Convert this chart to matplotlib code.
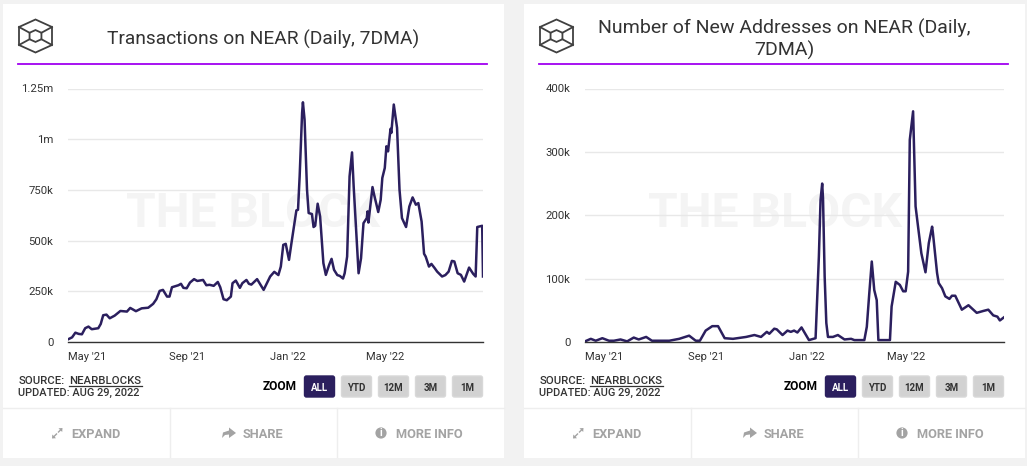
import numpy as np
import pandas as pd
import matplotlib
matplotlib.use('Agg')
import matplotlib.pyplot as plt
import matplotlib.dates as mdates
from matplotlib.patches import FancyBboxPatch, Rectangle, Circle, Polygon

plt.rcParams['font.family'] = ['Roboto', 'DejaVu Sans']

# Daily series, sampled at turning points. Days are counted from start_date.
start_date = pd.Timestamp('2021-04-08')
last_day = 507

tx_days = [0, 5, 9, 13, 17, 21, 25, 29, 37, 40, 43, 47, 51, 57, 64, 72, 76, 83, 90, 98, 104, 108, 112, 116, 121,
           124, 127, 135, 138, 141, 145, 149, 154, 158, 165, 169, 173, 178, 183, 186, 190, 194, 199, 201, 205, 210,
           213, 218, 221, 224, 231, 239, 243, 247, 252, 257, 260, 263, 266, 270, 273, 277, 279, 281, 283, 286, 287,
           289, 292, 294, 298, 300, 302, 305, 308, 312, 315, 319, 322, 325, 329, 332, 336, 338, 341, 344, 347, 349,
           352, 355, 358, 361, 365, 366, 367, 372, 374, 379, 382, 384, 387, 389, 391, 394, 395, 398, 402, 405, 408,
           413, 417, 421, 425, 428, 432, 435, 437, 441, 444, 448, 451, 457, 461, 465, 469, 472, 476, 480, 484, 490,
           495, 498, 500, 506, 507]
tx_values = [13, 23, 46, 40, 38, 68, 76, 63, 68, 89, 132, 135, 117, 130, 153, 150, 168, 152, 166, 169, 188, 211, 252,
             257, 224, 224, 270, 280, 287, 267, 265, 293, 310, 301, 306, 280, 282, 277, 296, 270, 211, 206, 224, 290,
             303, 267, 290, 306, 287, 283, 310, 257, 290, 323, 346, 330, 372, 479, 484, 405, 488, 594, 649, 652, 817,
             1130, 1182, 1097, 751, 636, 631, 567, 573, 682, 619, 389, 331, 380, 410, 356, 330, 326, 313, 339, 421,
             817, 935, 767, 553, 339, 413, 586, 611, 644, 589, 764, 726, 641, 701, 809, 858, 965, 940, 1051, 1031,
             1171, 1056, 751, 611, 567, 668, 713, 677, 685, 594, 435, 421, 372, 385, 364, 347, 323, 330, 347, 400,
             397, 339, 331, 298, 367, 336, 323, 567, 573, 323]

addr_days = [0, 7, 13, 21, 29, 35, 43, 51, 59, 65, 74, 81, 102, 114, 126, 134, 139, 146, 154, 161, 169, 179, 195, 205,
             213, 220, 223, 229, 232, 239, 245, 249, 253, 257, 262, 271, 279, 283, 285, 287, 288, 290, 292, 294, 300,
             306, 314, 322, 326, 338, 341, 344, 347, 350, 353, 355, 369, 371, 376, 381, 385, 388, 391, 393, 397, 400,
             403, 407, 412, 416, 420, 421, 426, 428, 432, 436, 441, 444, 448, 456, 464, 474, 482, 488, 494, 499, 502,
             507]
addr_values = [1, 5, 2, 6, 2, 2, 4, 1, 7, 4, 8, 2, 2, 5, 10, 2, 2, 18, 25, 25, 6, 5, 8, 11, 8, 16, 13, 21, 20, 11, 18,
               16, 18, 15, 23, 3, 6, 135, 224, 250, 227, 103, 30, 8, 8, 11, 4, 5, 3, 3, 24, 77, 127, 82, 66, 3, 3, 56,
               95, 90, 80, 80, 111, 319, 364, 214, 182, 140, 110, 156, 182, 172, 109, 93, 85, 72, 68, 73, 73, 51, 58,
               46, 49, 51, 42, 40, 34, 39]

month_ticks = ['2021-05-01', '2021-09-01', '2022-01-01', '2022-05-01']
tx_yticks = [0, 250, 500, 750, 1000, 1250]
tx_ylabels = ['0', '250k', '500k', '750k', '1m', '1.25m']
addr_yticks = [0, 100, 200, 300, 400]
addr_ylabels = ['0', '100k', '200k', '300k', '400k']
zoom_options = ['ALL', 'YTD', '12M', '3M', '1M']

W, H = 1027, 466
INK = '#2b1f5e'
GREY = '#a3a3a3'

fig = plt.figure(figsize=(W / 100, H / 100), dpi=100, facecolor='#f2f2f2')

# full-figure layer in pixel units for the card furniture
page = fig.add_axes([0, 0, 1, 1], zorder=0)
page.set_xlim(0, W)
page.set_ylim(H, 0)
page.axis('off')


def draw_logo(ox):
    cx, cy = 35.5 + ox, 36
    outer = np.array([(0, -16.5), (16.5, -9), (16.5, 9), (0, 16.5), (-16.5, 9), (-16.5, -9)])
    inner = outer * 0.36
    page.add_patch(Polygon(outer + (cx, cy), closed=True, fill=False, ec='#404040', lw=1.3))
    page.add_patch(Polygon(inner + (cx, cy), closed=True, fill=False, ec='#404040', lw=1.3))
    for k in [1, 2, 4, 5]:
        page.plot([outer[k, 0] + cx, inner[k, 0] + cx], [outer[k, 1] + cy, inner[k, 1] + cy], color='#404040', lw=1.3)


def draw_footer(ox):
    page.plot([ox + 3, ox + 504], [408, 408], color='#eeeeee', lw=1)
    page.plot([ox + 169.5] * 2, [408, 457], color='#eeeeee', lw=1)
    page.plot([ox + 336.5] * 2, [408, 457], color='#eeeeee', lw=1)

    label = dict(fontsize=9.2, fontweight='bold', color=GREY, va='center', ha='left')
    page.text(ox + 71, 434, 'EXPAND', **label)
    page.text(ox + 242.5, 434, 'SHARE', **label)
    page.text(ox + 396, 434, 'MORE INFO', **label)

    # expand icon, two small arrows pointing apart
    page.plot([ox + 54, ox + 56.5], [436.5, 434], color=GREY, lw=1)
    page.plot([ox + 58.5, ox + 61], [432, 429.5], color=GREY, lw=1)
    page.add_patch(Polygon([(ox + 52, 438.5), (ox + 52.3, 434.5), (ox + 56, 438.2)], closed=True, fc=GREY, ec='none'))
    page.add_patch(Polygon([(ox + 62.5, 428), (ox + 62.2, 432), (ox + 58.5, 428.3)], closed=True, fc=GREY, ec='none'))
    # share icon
    page.add_patch(Polygon([(ox + 222, 438), (ox + 223, 432.5), (ox + 229, 430.5), (ox + 229, 427.5), (ox + 236, 433),
                            (ox + 229, 438), (ox + 229, 434.5), (ox + 225, 435)], closed=True, fc=GREY, ec='none'))
    # info icon
    page.add_patch(Circle((ox + 381, 433), 5.6, fc=GREY, ec='none'))
    page.text(ox + 381, 433, 'i', fontsize=7.5, fontweight='bold', color='white', ha='center', va='center')


def draw_source(ox):
    line = dict(fontsize=8.2, fontweight='medium', color='#333333', va='center', ha='left')
    page.text(ox + 19, 380.5, 'SOURCE:', **line)
    page.text(ox + 69, 380.5, 'NEARBLOCKS', **line)
    page.plot([ox + 69, ox + 142], [385.5, 385.5], color='#333333', lw=0.9)
    line['fontsize'] = 7.9
    page.text(ox + 18, 392.5, 'UPDATED: AUG 29, 2022', **line)


def draw_zoom(ox):
    page.text(ox + 279.5, 386, 'ZOOM', fontsize=8.6, fontweight='bold', color='black', ha='center', va='center')
    for i, name in enumerate(zoom_options):
        x0 = ox + 303.5 + i * 37
        active = name == 'ALL'
        page.add_patch(FancyBboxPatch((x0 + 1, 376), 30, 21, boxstyle='round,pad=0,rounding_size=2',
                                      fc=INK if active else '#d2d2d2', ec=INK if active else '#d8d8d8', lw=1))
        page.text(x0 + 16, 388, name, fontsize=7, fontweight='bold', color='white' if active else '#333333',
                  ha='center', va='center')


def draw_card(ox, title, title_size, plot_left, plot_right, days, values, yticks, ylabels):
    page.add_patch(Rectangle((ox + 3, 4), 501, 453.5, fc='white', ec='none'))
    draw_logo(ox)
    page.text(ox + 263, 39.5, title, fontsize=title_size, color='#333333', ha='center', va='center', linespacing=1.2)
    page.plot([ox + 18, ox + 487], [64, 64], color='#a000f0', lw=1.3)
    page.text(ox + 253.5, 214, 'THE BLOCK', fontsize=34.6, fontweight='bold', color='#f4f4f4', ha='center', va='center')
    draw_footer(ox)
    draw_source(ox)
    draw_zoom(ox)

    top, bottom = 88.5, 342
    ax = fig.add_axes([plot_left / W, 1 - bottom / H, (plot_right - plot_left) / W, (bottom - top) / H], zorder=1)
    ax.patch.set_alpha(0)
    dates = start_date + pd.to_timedelta(days, unit='D')
    ax.plot(dates, values, color=INK, lw=1.8, solid_joinstyle='round')
    ax.set_xlim(start_date, start_date + pd.Timedelta(days=last_day))
    ax.set_ylim(yticks[0], yticks[-1])
    ax.set_yticks(yticks)
    ax.set_yticklabels(ylabels)
    ax.set_xticks(pd.to_datetime(month_ticks))
    ax.xaxis.set_major_formatter(mdates.DateFormatter("%b '%y"))
    ax.grid(True, axis='y', color='#e8e8e8', lw=1)
    ax.set_axisbelow(True)
    for side in ['top', 'left', 'right']:
        ax.spines[side].set_visible(False)
    ax.spines['bottom'].set_color('#333333')
    ax.spines['bottom'].set_linewidth(1)
    ax.tick_params(axis='y', length=0, pad=10.5, labelsize=8.2, labelcolor='#333333')
    ax.tick_params(axis='x', length=0, pad=7.5, labelsize=8, labelcolor='#333333')


draw_card(0, 'Transactions on NEAR (Daily, 7DMA)', 13.8, 68, 483, tx_days, tx_values, tx_yticks, tx_ylabels)
draw_card(521, 'Number of New Addresses on NEAR (Daily,\n7DMA)', 14, 585, 1004, addr_days, addr_values,
          addr_yticks, addr_ylabels)

fig.savefig('out.png', dpi=100, facecolor=fig.get_facecolor())
